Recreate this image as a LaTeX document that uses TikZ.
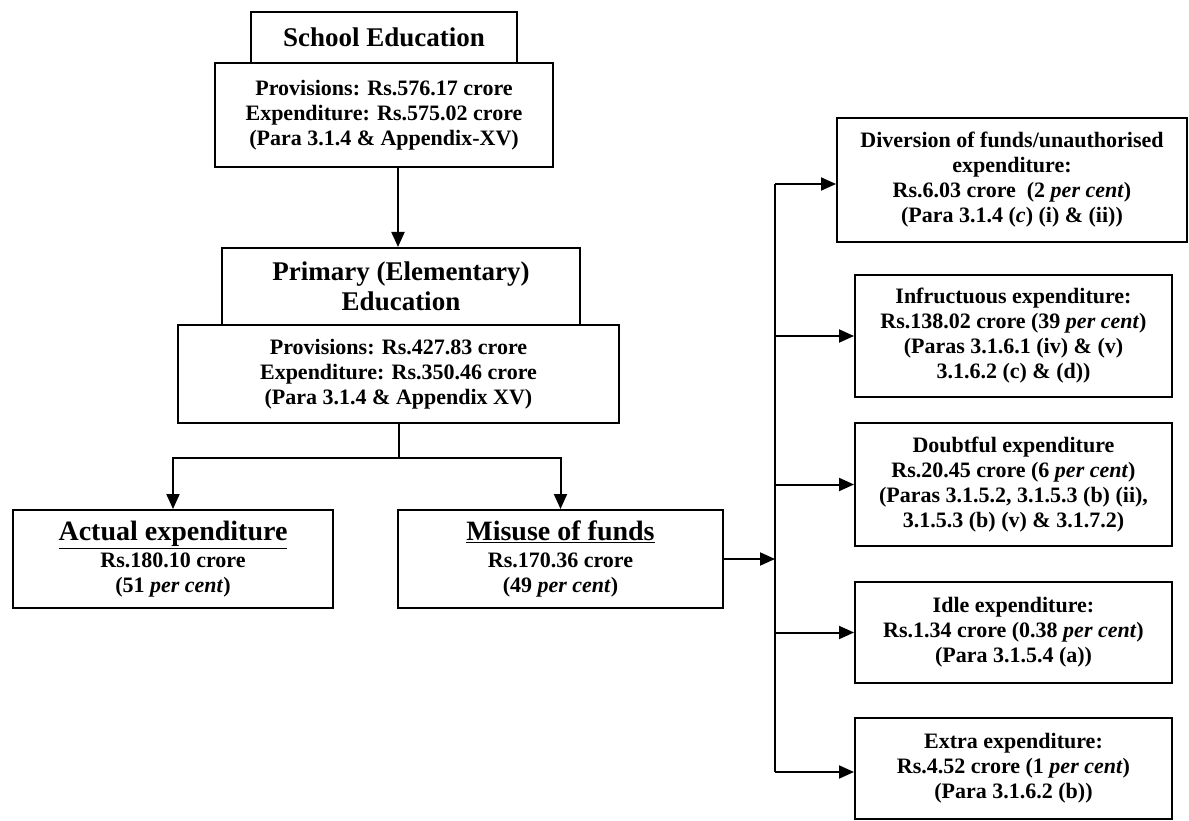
\documentclass[tikz,border=0pt]{standalone}
\usepackage{fontspec}
\setmainfont{Liberation Serif}
\usetikzlibrary{arrows.meta}
\tikzset{
  box/.style={draw, line width=2pt, rectangle, align=center, inner sep=0pt, font=\bfseries\fontsize{22}{25}\selectfont},
  bigbox/.style={box, font=\bfseries\fontsize{27}{30}\selectfont},
  conn/.style={line width=2pt},
  arr/.style={conn, -{Triangle[length=15pt,width=13pt]}}
}
\begin{document}
\begin{tikzpicture}[x=1pt,y=-1pt]
\useasboundingbox (0,0) rectangle (1189,821);
% left column
\node[bigbox, minimum width=266pt, minimum height=51pt] (se) at (384,37.5) {School Education};
\node[box, minimum width=338pt, minimum height=104pt] (sp) at (384,115) {Provisions: Rs.576.17 crore\\Expenditure: Rs.575.02 crore\\(Para 3.1.4 \& Appendix-XV)};
\node[bigbox, minimum width=358pt, minimum height=77pt] (pe) at (401,286.5) {Primary (Elementary)\\Education};
\node[box, minimum width=441pt, minimum height=98pt] (pp) at (398.5,374) {Provisions: Rs.427.83 crore\\Expenditure: Rs.350.46 crore\\(Para 3.1.4 \& Appendix XV)};
\node[box, minimum width=320pt, minimum height=98pt] (ae) at (173,559) {{\fontsize{28}{30}\selectfont\underline{Actual expenditure}}\\[2pt]Rs.180.10 crore\\(51 \textit{per cent})};
\node[box, minimum width=325pt, minimum height=98pt] (mf) at (560.5,559) {{\fontsize{28}{30}\selectfont\underline{Misuse of funds}}\\[2pt]Rs.170.36 crore\\(49 \textit{per cent})};
% right column
\node[box, minimum width=350pt, minimum height=124pt] (d1) at (1012,180) {Diversion of funds/unauthorised\\expenditure:\\Rs.6.03 crore~~(2 \textit{per cent})\\(Para 3.1.4 (\textit{c}) (i) \& (ii))};
\node[box, minimum width=317pt, minimum height=122pt] (d2) at (1013.5,336) {Infructuous expenditure:\\Rs.138.02 crore (39 \textit{per cent})\\(Paras 3.1.6.1 (iv) \& (v)\\3.1.6.2 (c) \& (d))};
\node[box, minimum width=317pt, minimum height=123pt] (d3) at (1013.5,484.5) {Doubtful expenditure\\Rs.20.45 crore (6 \textit{per cent})\\(Paras 3.1.5.2, 3.1.5.3 (b) (ii),\\3.1.5.3 (b) (v) \& 3.1.7.2)};
\node[box, minimum width=317pt, minimum height=101pt] (d4) at (1013.5,632.5) {Idle expenditure:\\Rs.1.34 crore (0.38 \textit{per cent})\\(Para 3.1.5.4 (a))};
\node[box, minimum width=317pt, minimum height=101pt] (d5) at (1013.5,768.5) {Extra expenditure:\\Rs.4.52 crore (1 \textit{per cent})\\(Para 3.1.6.2 (b))};
% connectors
\draw[arr] ([xshift=14pt]sp.south) -- ([xshift=14pt]sp.south |- pe.north);
\coordinate (j) at ([yshift=-34pt]pp.south);
\draw[conn] (pp.south) -- (j);
\draw[arr] (j) -| (ae.north);
\draw[arr] (j) -| (mf.north);
\coordinate (btop) at (775,184);
\coordinate (bbot) at (775,772);
\draw[conn] (btop) -- (bbot);
\draw[arr] (mf.east) -- (mf.east -| btop);
\draw[arr] (btop) -- (btop -| d1.west);
\draw[arr] (btop |- d2.west) -- (d2.west);
\draw[arr] (btop |- d3.west) -- (d3.west);
\draw[arr] (btop |- d4.west) -- (d4.west);
\draw[arr] (bbot) -- (bbot -| d5.west);
\end{tikzpicture}
\end{document}
